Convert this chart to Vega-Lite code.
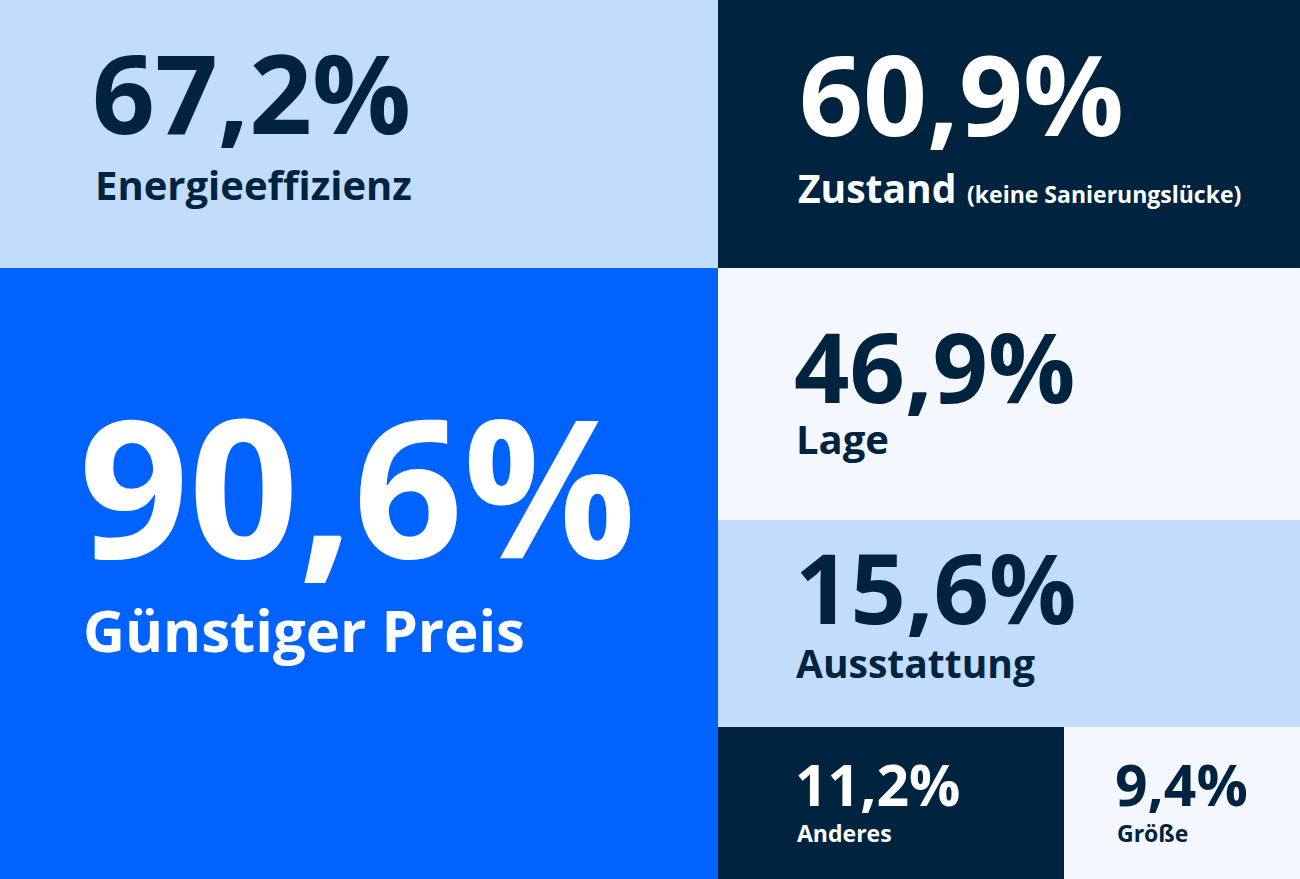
{
  "$schema": "https://vega.github.io/schema/vega-lite/v6.json",
  "width": 1300,
  "height": 879,
  "autosize": {"type": "fit", "contains": "padding"},
  "padding": 0,
  "background": "#ffffff",
  "config": {"view": {"stroke": null}, "font": "Open Sans"},
  "data": {
    "values": [
      {"name": "Energieeffizienz", "value": 67.2, "x0": 0, "x1": 718, "y0": 0, "y1": 268},
      {"name": "Zustand", "note": "(keine Sanierungslücke)", "value": 60.9, "x0": 718, "x1": 1300, "y0": 0, "y1": 268},
      {"name": "Günstiger Preis", "value": 90.6, "x0": 0, "x1": 718, "y0": 268, "y1": 879},
      {"name": "Lage", "value": 46.9, "x0": 718, "x1": 1300, "y0": 268, "y1": 520},
      {"name": "Ausstattung", "value": 15.6, "x0": 718, "x1": 1300, "y0": 520, "y1": 727},
      {"name": "Anderes", "value": 11.2, "x0": 718, "x1": 1064, "y0": 727, "y1": 879},
      {"name": "Größe", "value": 9.4, "x0": 1064, "x1": 1300, "y0": 727, "y1": 879}
    ]
  },
  "transform": [
    {"calculate": "replace(format(datum.value, '.1f'), '.', ',') + '%'", "as": "pct"}
  ],
  "layer": [
    {
      "mark": {"type": "rect"},
      "encoding": {
        "x": {"field": "x0", "type": "quantitative", "scale": {"domain": [0, 1300], "nice": false, "zero": false}, "axis": null},
        "x2": {"field": "x1"},
        "y": {"field": "y0", "type": "quantitative", "scale": {"domain": [0, 879], "nice": false, "zero": false, "reverse": true}, "axis": null},
        "y2": {"field": "y1"},
        "color": {
          "field": "name", "type": "nominal", "legend": null,
          "scale": {
            "domain": ["Energieeffizienz", "Zustand", "Günstiger Preis", "Lage", "Ausstattung", "Anderes", "Größe"],
            "range": ["#c2ddfc", "#00233f", "#0062ff", "#f4f8fe", "#c2ddfc", "#00233f", "#f4f8fe"]
          }
        }
      }
    },
    {
      "transform": [{"filter": "datum.name === 'Energieeffizienz'"}],
      "mark": {"type": "text", "align": "left", "baseline": "alphabetic", "fontWeight": "bold", "fontSize": 110, "color": "#00233f", "dx": 92, "dy": 134},
      "encoding": {"x": {"field": "x0", "type": "quantitative"}, "y": {"field": "y0", "type": "quantitative"}, "text": {"field": "pct"}}
    },
    {
      "transform": [{"filter": "datum.name === 'Energieeffizienz'"}],
      "mark": {"type": "text", "align": "left", "baseline": "alphabetic", "fontWeight": "bold", "fontSize": 40, "color": "#00233f", "dx": 95, "dy": 200},
      "encoding": {"x": {"field": "x0", "type": "quantitative"}, "y": {"field": "y0", "type": "quantitative"}, "text": {"field": "name"}}
    },
    {
      "transform": [{"filter": "datum.name === 'Zustand'"}],
      "mark": {"type": "text", "align": "left", "baseline": "alphabetic", "fontWeight": "bold", "fontSize": 112, "color": "#ffffff", "dx": 81, "dy": 136},
      "encoding": {"x": {"field": "x0", "type": "quantitative"}, "y": {"field": "y0", "type": "quantitative"}, "text": {"field": "pct"}}
    },
    {
      "transform": [{"filter": "datum.name === 'Zustand'"}],
      "mark": {"type": "text", "align": "left", "baseline": "alphabetic", "fontWeight": "bold", "fontSize": 39, "color": "#ffffff", "dx": 80, "dy": 203},
      "encoding": {"x": {"field": "x0", "type": "quantitative"}, "y": {"field": "y0", "type": "quantitative"}, "text": {"field": "name"}}
    },
    {
      "transform": [{"filter": "datum.name === 'Zustand'"}],
      "mark": {"type": "text", "align": "left", "baseline": "alphabetic", "fontWeight": "bold", "fontSize": 23, "color": "#ffffff", "dx": 249, "dy": 203},
      "encoding": {"x": {"field": "x0", "type": "quantitative"}, "y": {"field": "y0", "type": "quantitative"}, "text": {"field": "note"}}
    },
    {
      "transform": [{"filter": "datum.name === 'Günstiger Preis'"}],
      "mark": {"type": "text", "align": "left", "baseline": "alphabetic", "fontWeight": "bold", "fontSize": 192, "color": "#ffffff", "dx": 79, "dy": 290},
      "encoding": {"x": {"field": "x0", "type": "quantitative"}, "y": {"field": "y0", "type": "quantitative"}, "text": {"field": "pct"}}
    },
    {
      "transform": [{"filter": "datum.name === 'Günstiger Preis'"}],
      "mark": {"type": "text", "align": "left", "baseline": "alphabetic", "fontWeight": "bold", "fontSize": 58, "color": "#ffffff", "dx": 83, "dy": 384},
      "encoding": {"x": {"field": "x0", "type": "quantitative"}, "y": {"field": "y0", "type": "quantitative"}, "text": {"field": "name"}}
    },
    {
      "transform": [{"filter": "datum.name === 'Lage'"}],
      "mark": {"type": "text", "align": "left", "baseline": "alphabetic", "fontWeight": "bold", "fontSize": 97, "color": "#00233f", "dx": 76, "dy": 135},
      "encoding": {"x": {"field": "x0", "type": "quantitative"}, "y": {"field": "y0", "type": "quantitative"}, "text": {"field": "pct"}}
    },
    {
      "transform": [{"filter": "datum.name === 'Lage'"}],
      "mark": {"type": "text", "align": "left", "baseline": "alphabetic", "fontWeight": "bold", "fontSize": 40, "color": "#00233f", "dx": 78, "dy": 186},
      "encoding": {"x": {"field": "x0", "type": "quantitative"}, "y": {"field": "y0", "type": "quantitative"}, "text": {"field": "name"}}
    },
    {
      "transform": [{"filter": "datum.name === 'Ausstattung'"}],
      "mark": {"type": "text", "align": "left", "baseline": "alphabetic", "fontWeight": "bold", "fontSize": 97, "color": "#00233f", "dx": 77, "dy": 104},
      "encoding": {"x": {"field": "x0", "type": "quantitative"}, "y": {"field": "y0", "type": "quantitative"}, "text": {"field": "pct"}}
    },
    {
      "transform": [{"filter": "datum.name === 'Ausstattung'"}],
      "mark": {"type": "text", "align": "left", "baseline": "alphabetic", "fontWeight": "bold", "fontSize": 39, "color": "#00233f", "dx": 78, "dy": 158},
      "encoding": {"x": {"field": "x0", "type": "quantitative"}, "y": {"field": "y0", "type": "quantitative"}, "text": {"field": "name"}}
    },
    {
      "transform": [{"filter": "datum.name === 'Anderes'"}],
      "mark": {"type": "text", "align": "left", "baseline": "alphabetic", "fontWeight": "bold", "fontSize": 57, "color": "#ffffff", "dx": 77, "dy": 79},
      "encoding": {"x": {"field": "x0", "type": "quantitative"}, "y": {"field": "y0", "type": "quantitative"}, "text": {"field": "pct"}}
    },
    {
      "transform": [{"filter": "datum.name === 'Anderes'"}],
      "mark": {"type": "text", "align": "left", "baseline": "alphabetic", "fontWeight": "bold", "fontSize": 23, "color": "#ffffff", "dx": 79, "dy": 115},
      "encoding": {"x": {"field": "x0", "type": "quantitative"}, "y": {"field": "y0", "type": "quantitative"}, "text": {"field": "name"}}
    },
    {
      "transform": [{"filter": "datum.name === 'Größe'"}],
      "mark": {"type": "text", "align": "left", "baseline": "alphabetic", "fontWeight": "bold", "fontSize": 57, "color": "#00233f", "dx": 51, "dy": 79},
      "encoding": {"x": {"field": "x0", "type": "quantitative"}, "y": {"field": "y0", "type": "quantitative"}, "text": {"field": "pct"}}
    },
    {
      "transform": [{"filter": "datum.name === 'Größe'"}],
      "mark": {"type": "text", "align": "left", "baseline": "alphabetic", "fontWeight": "bold", "fontSize": 23, "color": "#00233f", "dx": 53, "dy": 115},
      "encoding": {"x": {"field": "x0", "type": "quantitative"}, "y": {"field": "y0", "type": "quantitative"}, "text": {"field": "name"}}
    }
  ]
}
